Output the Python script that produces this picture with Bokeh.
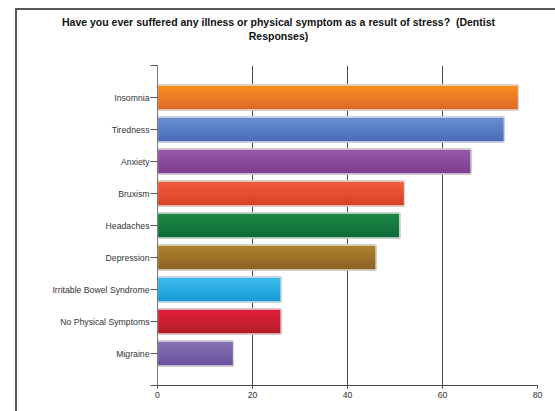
from bokeh.plotting import figure
from bokeh.models import FixedTicker, ColumnDataSource, Div
from bokeh.layouts import column
from bokeh.embed import file_html
from bokeh.resources import INLINE

# Survey answers (number of dentists reporting each symptom)
categories = [
    "Insomnia", "Tiredness", "Anxiety", "Bruxism", "Headaches",
    "Depression", "Irritable Bowel Syndrome", "No Physical Symptoms", "Migraine",
]
values = [76, 73, 66, 52, 51, 46, 26, 26, 16]
x_ticks = [0, 20, 40, 60, 80]

# Gradient end colours for each bar (top edge -> bottom edge)
top_colors = ["#f7901e", "#6a8fcf", "#9b59a8", "#f05f42", "#1e8a45",
              "#b08530", "#3dbdee", "#e0203f", "#8872b4"]
bottom_colors = ["#e0692a", "#4a6db8", "#7e3e93", "#db4128", "#0f6b3a",
                 "#8e6224", "#1a9ad6", "#b81e26", "#6a529c"]

title_lines = [
    "Have you ever suffered any illness or physical symptom as a result of stress?&nbsp; (Dentist",
    "Responses)",
]

FONT = "Liberation Sans"


def hex_to_rgb(h):
    h = h.lstrip("#")
    return tuple(int(h[i:i + 2], 16) for i in (0, 2, 4))


def mix(c1, c2, t):
    a, b = hex_to_rgb(c1), hex_to_rgb(c2)
    return "#%02x%02x%02x" % tuple(round(a[i] + (b[i] - a[i]) * t) for i in range(3))


n = len(categories)
ypos = list(range(n, 0, -1))  # first category at the top
bar_h = 0.78
strips = 16

# Each bar is drawn as a stack of thin strips to get a vertical gradient
sy, sr, sc = [], [], []
for i in range(n):
    for k in range(strips):
        t = k / (strips - 1)
        sy.append(ypos[i] + bar_h / 2 - (k + 0.5) * bar_h / strips)
        sr.append(values[i])
        sc.append(mix(top_colors[i], bottom_colors[i], t))
strip_src = ColumnDataSource(dict(y=sy, right=sr, color=sc))

p = figure(
    width=538, height=356,
    x_range=(0, 80), y_range=(0, n + 1),
    output_backend="svg", toolbar_location=None,
    min_border_left=140, min_border_right=18,
    min_border_top=10, min_border_bottom=26,
    background_fill_color="white", border_fill_color="white",
)
p.outline_line_color = None

p.hbar(y="y", right="right", left=0, height=bar_h / strips * 1.08,
       color="color", source=strip_src)
p.hbar(y=ypos, right=values, left=0, height=bar_h,
       fill_color=None, line_color="#dcdcdc", line_width=1.3)

# x axis
p.xaxis.ticker = FixedTicker(ticks=x_ticks)
p.xaxis.axis_line_color = "#444444"
p.xaxis.major_tick_line_color = "#444444"
p.xaxis.major_tick_out = 3
p.xaxis.major_tick_in = 0
p.xaxis.minor_tick_line_color = None
p.xaxis.major_label_standoff = 3
p.xaxis.major_label_text_font = FONT
p.xaxis.major_label_text_font_size = "8.7px"
p.xaxis.major_label_text_color = "#333333"

# y axis with category labels
p.yaxis.ticker = FixedTicker(ticks=list(range(0, n + 2)))
overrides = {0: "", n + 1: ""}
overrides.update({ypos[i]: categories[i] for i in range(n)})
p.yaxis.major_label_overrides = overrides
p.yaxis.axis_line_color = "#7a7a7a"
p.yaxis.major_tick_line_color = "#555555"
p.yaxis.major_tick_out = 7
p.yaxis.major_tick_in = 0
p.yaxis.minor_tick_line_color = None
p.yaxis.major_label_standoff = 1
p.yaxis.major_label_text_font = FONT
p.yaxis.major_label_text_font_size = "8.7px"
p.yaxis.major_label_text_color = "#333333"

p.xgrid.ticker = FixedTicker(ticks=x_ticks[1:])
p.xgrid.grid_line_color = "#4d4d4d"
p.ygrid.grid_line_color = None

# Two-line title above the plot
title = Div(
    text="<br>".join(title_lines),
    width=523, height=45, margin=0,
    styles={
        "font-family": FONT, "font-size": "10.5px", "font-weight": "bold",
        "color": "#111111", "text-align": "center", "line-height": "14px",
        "padding-top": "5px", "box-sizing": "border-box",
    },
)

# chart border along the top and left edges of the page
layout = column(
    title, p, spacing=0,
    styles={
        "margin-left": "15px", "margin-top": "8px",
        "border-left": "2px solid #585858", "border-top": "2px solid #585858",
    },
)

open("out.html", "w").write(file_html(layout, INLINE))
